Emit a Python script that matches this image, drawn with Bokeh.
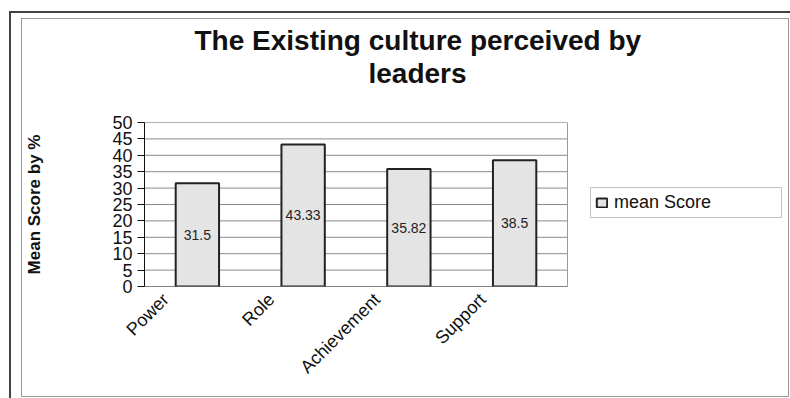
import math
from bokeh.plotting import figure
from bokeh.models import (ColumnDataSource, Range1d, FixedTicker, LabelSet,
                          Legend, LegendItem, Title, InlineStyleSheet)
from bokeh.core.properties import value
from bokeh.embed import file_html
from bokeh.resources import INLINE

# ---- data ----
categories = ["Power", "Role", "Achievement", "Support"]
mean_scores = [31.5, 43.33, 35.82, 38.5]
score_labels = ["31.5", "43.33", "35.82", "38.5"]
y_ticks = [0, 5, 10, 15, 20, 25, 30, 35, 40, 45, 50]
title_lines = ["The Existing culture perceived by", "leaders"]
y_title = "Mean Score by %"
series_name = "mean Score"

FONT = "Liberation Sans"
n = len(categories)
y_max = 50
label_shift = 0.30   # rotated category labels end a little left of the bar centre

# layout (pixels): plot area 144..567, the drawing area continues to 790 for the legend
W, H = 790, 398
LEFT, PLOT_RIGHT, TOP, BOTTOM = 144, 567, 122, 286
x_end = n * (W - LEFT) / (PLOT_RIGHT - LEFT)

src = ColumnDataSource(dict(
    xpos=[i + 0.5 for i in range(n)],
    val=mean_scores,
    mid=[v / 2 for v in mean_scores],
    txt=score_labels,
))

p = figure(x_range=Range1d(0, x_end), y_range=Range1d(0, y_max), width=W, height=H,
           output_backend="svg", toolbar_location=None,
           min_border_left=LEFT, min_border_right=0, min_border_top=TOP,
           min_border_bottom=H - BOTTOM)
p.background_fill_color = "white"
p.border_fill_color = "white"
p.outline_line_color = None
p.xgrid.grid_line_color = None
p.ygrid.grid_line_color = None

# horizontal grid lines and plot-area border
p.segment(x0=[0] * len(y_ticks), x1=[n] * len(y_ticks), y0=y_ticks, y1=y_ticks,
          line_color="#8a8a8a", line_width=1)
p.quad(left=[0], right=[n], bottom=[0], top=[y_max], fill_color=None,
       line_color="#9a9a9a", line_width=1)
p.segment(x0=[0], x1=[n], y0=[0], y1=[0], line_color="#555555", line_width=1)

bars = p.vbar(x="xpos", top="val", width=0.41, source=src,
              fill_color="#e4e4e4", line_color="#222222", line_width=2)

# y axis
p.yaxis.ticker = FixedTicker(ticks=y_ticks)
p.yaxis.major_label_text_font = FONT
p.yaxis.major_label_text_font_size = "18px"
p.yaxis.major_label_text_color = "#111111"
p.yaxis.major_tick_out = 7
p.yaxis.major_tick_in = 0
p.yaxis.minor_tick_line_color = None
p.yaxis.axis_line_color = "#111111"
p.yaxis.major_tick_line_color = "#111111"
p.yaxis.major_label_standoff = 5
p.yaxis.axis_label = y_title
p.yaxis.axis_label_text_font = FONT
p.yaxis.axis_label_text_font_size = "17px"
p.yaxis.axis_label_text_font_style = "bold"
p.yaxis.axis_label_text_color = "#111111"
p.yaxis.axis_label_standoff = 65

# x axis with category names as rotated labels
cat_ticks = [x - label_shift for x in src.data["xpos"]]
p.xaxis.ticker = FixedTicker(ticks=cat_ticks)
p.xaxis.major_label_overrides = {t: c for t, c in zip(cat_ticks, categories)}
p.xaxis.major_label_orientation = math.pi / 4
p.xaxis.major_label_text_font = FONT
p.xaxis.major_label_text_font_size = "18px"
p.xaxis.major_label_text_color = "#111111"
p.xaxis.major_label_standoff = 4
p.xaxis.axis_line_color = None
p.xaxis.major_tick_line_color = None
p.xaxis.minor_tick_line_color = None

# value labels in the middle of bars
p.add_layout(LabelSet(x="xpos", y="mid", text="txt", source=src,
                      text_font=value(FONT), text_font_size="14px", text_color="#222222",
                      text_align="center", text_baseline="middle"))

# title (two lines) + spacer
p.add_layout(Title(text=" ", text_font_size="20px"), "above")
p.add_layout(Title(text=title_lines[1], align="left", offset=224,
                   text_font=FONT, text_font_size="28px", text_font_style="bold",
                   text_color="#111111", standoff=0), "above")
p.add_layout(Title(text=title_lines[0], align="left", offset=50,
                   text_font=FONT, text_font_size="28px", text_font_style="bold",
                   text_color="#111111", standoff=0), "above")

# legend (inside the drawing area, right of the plot area)
legend = Legend(items=[LegendItem(label=series_name, renderers=[bars])],
                location=(446, 68), orientation="vertical",
                label_text_font=FONT, label_text_font_size="18px",
                label_text_color="#111111", glyph_width=13, glyph_height=11,
                label_standoff=6, padding=4, spacing=0, margin=0,
                label_width=163, border_line_color="#888888",
                background_fill_color="white")
p.add_layout(legend)

# outer double frame around the whole chart
p.stylesheets = [InlineStyleSheet(css="""
:host { position: relative; }
:host::before { content: ''; position: absolute; left: 9px; top: 11px; width: 800px; height: 400px;
  border: 2px solid #444; box-sizing: border-box; pointer-events: none; z-index: 5; }
:host::after { content: ''; position: absolute; left: 21px; top: 18px; width: 768px; height: 379px;
  border: 1px solid #999; box-sizing: border-box; pointer-events: none; z-index: 5; }
""")]

open("out.html", "w").write(file_html(p, INLINE))
